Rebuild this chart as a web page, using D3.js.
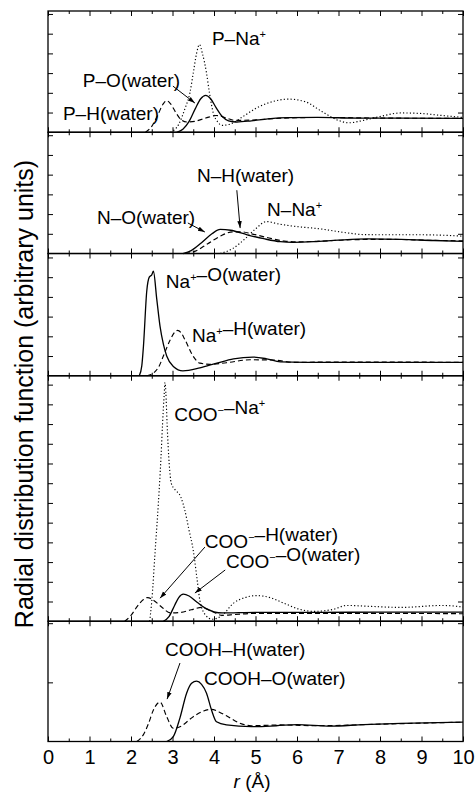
<!DOCTYPE html>
<html>
<head>
<meta charset="utf-8">
<script src="https://cdn.jsdelivr.net/npm/d3@7"></script>
<style>
  body { margin: 0; background: #fff; }
  text { font-family: "Liberation Sans", Arial, Helvetica, sans-serif; fill: #000; }
</style>
</head>
<body>
<div id="chart"></div>
<script>
// ---- data: [r (Å), g(r) in tick units] ----
const pNa = [[2.95,0],[3.15,0.4],[3.3,1.2],[3.42,2.0],[3.5,3.0],[3.58,4.0],[3.65,4.45],[3.72,4.0],[3.82,3.0],[3.89,2.0],[3.98,1.0],[4.1,0.5],[4.2,0.35],[4.4,0.42],[4.7,0.8],[5.0,1.2],[5.4,1.55],[5.8,1.68],[6.2,1.55],[6.6,1.05],[7.0,0.6],[7.25,0.48],[7.6,0.6],[8.0,0.8],[8.5,0.98],[9.0,0.95],[9.5,0.85],[10,0.75]];
const pO = [[3.1,0],[3.25,0.15],[3.4,0.55],[3.55,1.2],[3.68,1.7],[3.8,1.87],[3.92,1.7],[4.05,1.25],[4.2,0.8],[4.35,0.58],[4.55,0.52],[4.9,0.58],[5.3,0.68],[5.8,0.74],[6.5,0.75],[7.5,0.72],[8.5,0.72],[10,0.7]];
const pH = [[2.35,0],[2.5,0.3],[2.65,0.9],[2.78,1.45],[2.86,1.6],[2.95,1.45],[3.08,1.0],[3.2,0.65],[3.35,0.52],[3.55,0.56],[3.8,0.72],[4.05,0.85],[4.3,0.72],[4.5,0.6],[4.9,0.62],[5.5,0.7],[6.5,0.75],[8,0.72],[10,0.7]];

const nO = [[3.25,0],[3.45,0.15],[3.7,0.55],[3.95,1.0],[4.15,1.22],[4.4,1.18],[4.8,0.95],[5.2,0.75],[5.6,0.6],[5.9,0.57],[6.4,0.6],[7.0,0.68],[7.7,0.74],[8.5,0.72],[9.3,0.66],[10,0.62]];
const nH = [[3.3,0],[3.55,0.12],[3.85,0.5],[4.15,0.88],[4.45,1.1],[4.65,1.1],[4.9,1.0],[5.3,0.8],[5.7,0.63],[6.0,0.59],[6.6,0.63],[7.3,0.7],[8.2,0.72],[9.2,0.67],[10,0.64]];
const nNa = [[4.15,0],[4.45,0.25],[4.75,0.75],[5.0,1.25],[5.27,1.62],[5.55,1.5],[5.9,1.39],[6.55,1.25],[7.2,1.05],[7.6,0.96],[8.2,0.95],[9.0,0.95],[10,0.88]];

const naO = [[2.2,0],[2.26,0.5],[2.3,1.5],[2.38,4.3],[2.44,5.0],[2.5,5.12],[2.54,5.3],[2.62,3.9],[2.7,2.5],[2.78,1.6],[2.86,1.0],[3.02,0.47],[3.25,0.25],[3.66,0.4],[4.07,0.64],[4.47,0.86],[4.94,0.95],[5.27,0.86],[5.6,0.7],[6.2,0.68],[7.5,0.68],[10,0.68]];
const naH = [[2.38,0],[2.55,0.15],[2.68,0.5],[2.78,1.0],[2.94,1.8],[3.05,2.2],[3.12,2.3],[3.2,2.2],[3.3,1.83],[3.5,0.98],[3.66,0.64],[3.9,0.58],[4.3,0.66],[4.87,0.81],[5.43,0.8],[5.9,0.68],[7,0.7],[10,0.68]];

const cooNa = [[2.45,0],[2.5,1.0],[2.58,3.5],[2.66,6.0],[2.72,8.2],[2.76,10.0],[2.8,11.5],[2.82,12.1],[2.84,11.6],[2.87,10.0],[2.92,8.0],[2.97,7.0],[3.05,6.7],[3.2,6.3],[3.3,5.6],[3.4,4.6],[3.5,3.6],[3.6,2.0],[3.66,1.05],[3.8,0.3],[3.95,0.1],[4.2,0.3],[4.46,0.9],[4.75,1.2],[5.03,1.3],[5.35,1.2],[5.7,0.9],[6.07,0.6],[6.4,0.5],[6.87,0.6],[7.2,0.8],[7.8,0.75],[8.5,0.7],[9.5,0.8],[10,0.72]];
const cooH = [[1.85,0],[2.0,0.3],[2.15,0.75],[2.3,1.1],[2.4,1.2],[2.55,1.05],[2.75,0.7],[2.95,0.42],[3.2,0.45],[3.45,0.58],[3.7,0.7],[3.95,0.5],[4.2,0.3],[4.5,0.34],[5.0,0.4],[6.0,0.4],[8.0,0.4],[10,0.38]];
const cooO = [[2.78,0],[2.92,0.25],[3.05,0.8],[3.15,1.2],[3.26,1.37],[3.4,1.28],[3.6,0.95],[3.8,0.65],[4.0,0.48],[4.2,0.42],[5.0,0.45],[6.5,0.45],[8.0,0.46],[10,0.46]];

const coohO = [[2.86,0],[3.02,0.25],[3.18,1.2],[3.34,2.45],[3.46,2.95],[3.58,3.06],[3.7,2.9],[3.82,2.45],[3.94,1.6],[4.06,1.0],[4.3,0.84],[4.9,0.75],[5.5,0.8],[6.0,0.86],[6.8,0.78],[7.6,0.86],[8.5,0.92],[10,0.98]];
const coohH = [[2.14,0],[2.3,0.35],[2.42,0.9],[2.54,1.6],[2.7,2.0],[2.86,1.26],[3.02,0.67],[3.18,0.75],[3.5,1.26],[3.75,1.55],[3.94,1.63],[4.12,1.5],[4.3,1.3],[4.62,0.93],[4.9,0.8],[5.6,0.84],[6.5,0.8],[8,0.88],[10,0.98]];

// panels top to bottom
const panelUnits = [6.15, 6.15, 6.2, 12.45, 6.1];
const panelTickStep = [1, 1, 1, 1, 3];
const panelSeries = [
  [[pNa, "dot"], [pO, "solid"], [pH, "dash"]],
  [[nNa, "dot"], [nO, "solid"], [nH, "dash"]],
  [[naO, "solid"], [naH, "dash"]],
  [[cooNa, "dot"], [cooH, "dash"], [cooO, "solid"]],
  [[coohO, "solid"], [coohH, "dash"]]
];

// curve labels: [panel, r, g, text]  (^ marks a superscript char)
const labels = [
  [0, 3.95, 4.42, "P–Na^+"],
  [0, 0.84, 2.29, "P–O(water)"],
  [0, 0.36, 0.62, "P–H(water)"],
  [1, 3.59, 3.62, "N–H(water)"],
  [1, 1.18, 1.49, "N–O(water)"],
  [1, 5.28, 1.9, "N–Na^+"],
  [2, 2.84, 4.45, "Na^+–O(water)"],
  [2, 3.47, 1.71, "Na^+–H(water)"],
  [3, 3.04, 10.15, "COO^−–Na^+"],
  [3, 3.78, 3.71, "COO^−–H(water)"],
  [3, 4.29, 2.7, "COO^−–O(water)"],
  [4, 2.82, 4.34, "COOH–H(water)"],
  [4, 3.76, 2.87, "COOH–O(water)"]
];
// arrows: [panel, r0, g0, r1, g1]
const arrows = [
  [0, 3.01, 2.34, 3.54, 1.48],
  [1, 4.55, 3.21, 4.63, 1.29],
  [1, 3.37, 1.55, 3.78, 1.09],
  [3, 3.78, 3.76, 2.7, 1.17],
  [3, 4.27, 2.6, 3.54, 1.43],
  [4, 3.18, 3.98, 2.87, 2.15]
];

const xTicks = d3.range(0, 11, 1);
const xMinor = d3.range(0.5, 10, 1);

const width = 475, height = 796;
const x = d3.scaleLinear().domain([0, 10]).range([48, 463]);
const total = d3.sum(panelUnits);
const y = d3.scaleLinear().domain([0, total]).range([741.5, 11]);

const svg = d3.select("#chart").append("svg")
  .attr("width", width).attr("height", height);

svg.append("defs").append("marker")
  .attr("id", "ah").attr("viewBox", "0 0 10 10")
  .attr("refX", 10).attr("refY", 5)
  .attr("markerWidth", 7).attr("markerHeight", 7)
  .attr("orient", "auto")
  .append("path").attr("d", "M0,1.8L10,5L0,8.2Z").attr("fill", "#000");

const dashes = { solid: null, dash: "5,3", dot: "1.2,2.2" };

// base offset of each panel (in units from bottom)
const bases = panelUnits.map((u, i) => d3.sum(panelUnits.slice(i + 1)));

panelUnits.forEach((units, i) => {
  const base = bases[i];
  const py = d3.scaleLinear().domain([0, units]).range([y(base), y(base + units)]);
  const g = svg.append("g");

  const line = d3.line()
    .x(d => x(d[0]))
    .y(d => py(d[1]))
    .curve(d3.curveMonotoneX);

  panelSeries[i].forEach(([data, style]) => {
    g.append("path")
      .attr("d", line(data))
      .attr("fill", "none")
      .attr("stroke", "#000")
      .attr("stroke-width", style === "solid" ? 1.3 : 1.15)
      .attr("stroke-dasharray", dashes[style]);
  });

  // frame
  g.append("rect")
    .attr("x", x(0)).attr("y", py(units))
    .attr("width", x(10) - x(0)).attr("height", py(0) - py(units))
    .attr("fill", "none").attr("stroke", "#000").attr("stroke-width", 1.3);

  const noDomain = s => s.select(".domain").remove();
  const tickStyle = s => s.selectAll("line").attr("stroke", "#000").attr("stroke-width", 1);

  // x ticks, inward on bottom and top
  [[d3.axisTop, py(0)], [d3.axisBottom, py(units)]].forEach(([ax, ty]) => {
    g.append("g").attr("transform", `translate(0,${ty})`)
      .call(ax(x).tickValues(xTicks).tickSize(5).tickFormat(""))
      .call(noDomain).call(tickStyle);
    g.append("g").attr("transform", `translate(0,${ty})`)
      .call(ax(x).tickValues(xMinor).tickSize(3).tickFormat(""))
      .call(noDomain).call(tickStyle);
  });

  // y ticks, inward on left and right
  const step = panelTickStep[i];
  const yt = d3.range(step, units, step);
  g.append("g").attr("transform", `translate(${x(0)},0)`)
    .call(d3.axisRight(py).tickValues(yt).tickSize(5).tickFormat(""))
    .call(noDomain).call(tickStyle);
  g.append("g").attr("transform", `translate(${x(10)},0)`)
    .call(d3.axisLeft(py).tickValues(yt).tickSize(5).tickFormat(""))
    .call(noDomain).call(tickStyle);
});

// curve labels
function panelY(p, v) { return y(bases[p] + v); }

labels.forEach(([p, r, v, txt]) => {
  const t = svg.append("text")
    .attr("x", x(r)).attr("y", panelY(p, v))
    .attr("font-size", 19);
  const parts = txt.split(/\^(.)/);
  parts.forEach((s, k) => {
    if (!s) return;
    if (k % 2 === 1) {
      t.append("tspan").attr("dy", -7).attr("font-size", 11).text(s);
      t.append("tspan").attr("dy", 7).attr("dx", 1).text("");
    } else {
      t.append("tspan").text(s);
    }
  });
});

arrows.forEach(([p, r0, v0, r1, v1]) => {
  svg.append("line")
    .attr("x1", x(r0)).attr("y1", panelY(p, v0))
    .attr("x2", x(r1)).attr("y2", panelY(p, v1))
    .attr("stroke", "#000").attr("stroke-width", 1)
    .attr("marker-end", "url(#ah)");
});

// x tick labels
svg.append("g").attr("transform", `translate(0,${y(0)})`)
  .call(d3.axisBottom(x).tickValues(xTicks).tickSize(0).tickPadding(8).tickFormat(d3.format("d")))
  .call(s => s.select(".domain").remove())
  .selectAll("text")
  .attr("font-size", 20)
  .attr("font-family", "Liberation Sans, Arial, sans-serif");

// axis titles
const xt = svg.append("text")
  .attr("x", 252).attr("y", 788)
  .attr("text-anchor", "middle")
  .attr("font-size", 19);
xt.append("tspan").attr("font-style", "italic").text("r");
xt.append("tspan").text(" (Å)");

svg.append("text")
  .attr("transform", "translate(33,394) rotate(-90)")
  .attr("text-anchor", "middle")
  .attr("font-size", 25)
  .text("Radial distribution function (arbitrary units)");
</script>
</body>
</html>
